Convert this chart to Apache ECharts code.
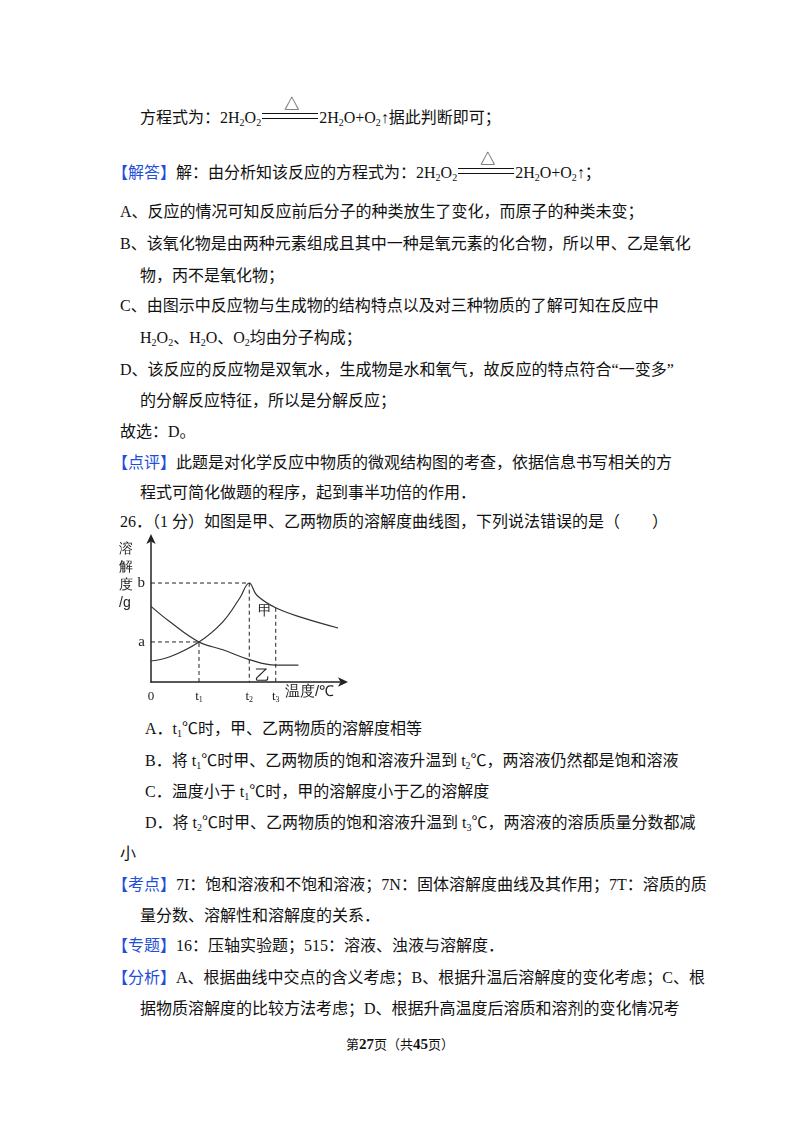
<!DOCTYPE html>
<html><head><meta charset="utf-8">
<script src="https://cdn.jsdelivr.net/npm/echarts@6/dist/echarts.min.js"></script>
<style>
body{margin:0;width:800px;height:1132px;background:#fff;font-family:"Liberation Serif","Noto Sans CJK SC",serif;color:#111;position:relative;overflow:hidden}
.l{position:absolute;font-size:16px;line-height:20px;white-space:nowrap}
.b{color:#1f4fd8}
sub{font-size:10px;vertical-align:-3px;line-height:0}
.eq{display:inline-block;position:relative;width:56px;height:4px;border-top:1px solid #111;border-bottom:1px solid #111;vertical-align:4px;margin:0 1px}
.eq span{position:absolute;left:22px;top:-20px;font-size:15px}
#c{position:absolute;left:100px;top:530px;width:260px;height:180px}
</style></head><body>
<div class="l" style="left:140px;top:108px">方程式为：2H<sub>2</sub>O<sub>2</sub><span class="eq"><span>△</span></span>2H<sub>2</sub>O+O<sub>2</sub>↑据此判断即可；</div>
<div class="l" style="left:112px;top:163px"><span class="b">【解答】</span>解：由分析知该反应的方程式为：2H<sub>2</sub>O<sub>2</sub><span class="eq"><span>△</span></span>2H<sub>2</sub>O+O<sub>2</sub>↑；</div>
<div class="l" style="left:120px;top:202px">A、反应的情况可知反应前后分子的种类放生了变化，而原子的种类未变；</div>
<div class="l" style="left:120px;top:234px">B、该氧化物是由两种元素组成且其中一种是氧元素的化合物，所以甲、乙是氧化</div>
<div class="l" style="left:140px;top:266px">物，丙不是氧化物；</div>
<div class="l" style="left:120px;top:296px">C、由图示中反应物与生成物的结构特点以及对三种物质的了解可知在反应中</div>
<div class="l" style="left:140px;top:328px">H<sub>2</sub>O<sub>2</sub>、H<sub>2</sub>O、O<sub>2</sub>均由分子构成；</div>
<div class="l" style="left:120px;top:360px">D、该反应的反应物是双氧水，生成物是水和氧气，故反应的特点符合“一变多”</div>
<div class="l" style="left:140px;top:391px">的分解反应特征，所以是分解反应；</div>
<div class="l" style="left:120px;top:422px">故选：D。</div>
<div class="l" style="left:112px;top:453px"><span class="b">【点评】</span>此题是对化学反应中物质的微观结构图的考查，依据信息书写相关的方</div>
<div class="l" style="left:140px;top:483px">程式可简化做题的程序，起到事半功倍的作用．</div>
<div class="l" style="left:120px;top:512px">26．（1 分）如图是甲、乙两物质的溶解度曲线图，下列说法错误的是（　　）</div>
<div class="l" style="left:145px;top:719px">A．t<sub>1</sub>℃时，甲、乙两物质的溶解度相等</div>
<div class="l" style="left:145px;top:751px">B．将 t<sub>1</sub>℃时甲、乙两物质的饱和溶液升温到 t<sub>2</sub>℃，两溶液仍然都是饱和溶液</div>
<div class="l" style="left:145px;top:782px">C．温度小于 t<sub>1</sub>℃时，甲的溶解度小于乙的溶解度</div>
<div class="l" style="left:145px;top:813px">D．将 t<sub>2</sub>℃时甲、乙两物质的饱和溶液升温到 t<sub>3</sub>℃，两溶液的溶质质量分数都减</div>
<div class="l" style="left:120px;top:844px">小</div>
<div class="l" style="left:112px;top:875px"><span class="b">【考点】</span>7I：饱和溶液和不饱和溶液；7N：固体溶解度曲线及其作用；7T：溶质的质</div>
<div class="l" style="left:140px;top:906px">量分数、溶解性和溶解度的关系．</div>
<div class="l" style="left:112px;top:936px"><span class="b">【专题】</span>16：压轴实验题；515：溶液、浊液与溶解度．</div>
<div class="l" style="left:112px;top:968px"><span class="b">【分析】</span>A、根据曲线中交点的含义考虑；B、根据升温后溶解度的变化考虑；C、根</div>
<div class="l" style="left:140px;top:999px">据物质溶解度的比较方法考虑；D、根据升高温度后溶质和溶剂的变化情况考</div>
<div class="l" style="left:0;width:800px;text-align:center;top:1034px;font-size:13px">第<b style="font-size:15px">27</b>页（共<b style="font-size:15px">45</b>页）</div>
<div id="c"></div>
<script>
const t1=2.54,t2=5.2,t3=6.6,a=2.86,b=7.07;
const xTickValues=[0,t1,t2,t3];
const xTickLabels=['0','{t|t}{s|1}','{t|t}{s|2}','{t|t}{s|3}'];
const yTickValues=[a,b];
const yTickLabels=['a','b'];
const jiaX=[0,1.0,t1,3.8,4.7,t2,5.6,t3,8.0,9.9];
const jiaY=[1.5,1.8,a,4.3,6.0,b,6.2,5.3,4.6,3.86];
const yiX=[0,1.0,t1,3.8,t2,t3,7.8];
const yiY=[5.4,4.3,a,2.3,1.6,1.2,1.2];
const dash={type:'line',symbol:'none',silent:true,lineStyle:{color:'#222',width:1,type:[4,3]}};
const chart=echarts.init(document.getElementById('c'));
chart.setOption({
 animation:false,
 grid:{left:51,top:12,width:189,height:140},
 xAxis:{type:'value',min:0,max:10,splitLine:{show:false},axisTick:{show:false},
  axisLine:{symbol:['none','arrow'],symbolSize:[7,10],symbolOffset:[0,8],lineStyle:{color:'#222',width:1.5}},
  axisLabel:{customValues:xTickValues,margin:8,color:'#222',fontSize:13,fontFamily:'Liberation Serif',
   formatter:v=>xTickLabels[xTickValues.indexOf(v)],rich:{t:{fontSize:13,fontFamily:'Liberation Serif'},s:{fontSize:8,verticalAlign:'bottom',padding:[6,0,0,0]}}}},
 yAxis:{type:'value',min:0,max:10,splitLine:{show:false},axisTick:{show:false},
  axisLine:{symbol:['none','arrow'],symbolSize:[7,10],symbolOffset:[0,8],lineStyle:{color:'#222',width:1.5}},
  axisLabel:{customValues:yTickValues,margin:6,color:'#222',fontSize:15,fontFamily:'Liberation Serif',
   formatter:v=>yTickLabels[yTickValues.indexOf(v)]}},
 graphic:[
  {type:'text',left:19,top:10,style:{text:'溶\n解\n度\n/g',fontSize:14,lineHeight:18,fill:'#222'}},
  {type:'text',left:185,top:154,style:{text:'温度/℃',fontSize:15,fill:'#222'}},
  {type:'text',left:158,top:74,style:{text:'甲',fontSize:14,fill:'#222'}},
  {type:'text',left:155,top:138,style:{text:'乙',fontSize:15,fill:'#222'}}
 ],
 series:[
  {type:'line',smooth:0.4,symbol:'none',data:jiaX.map((x,i)=>[x,jiaY[i]]),lineStyle:{color:'#333',width:1.2}},
  {type:'line',smooth:0.4,symbol:'none',data:yiX.map((x,i)=>[x,yiY[i]]),lineStyle:{color:'#333',width:1.2}},
  Object.assign({data:[[0,b],[t2,b],[t2,0]]},dash),
  Object.assign({data:[[0,a],[t1,a],[t1,0]]},dash),
  Object.assign({data:[[t3,jiaY[7]],[t3,0]]},dash)
 ]
});
</script>
</body></html>
